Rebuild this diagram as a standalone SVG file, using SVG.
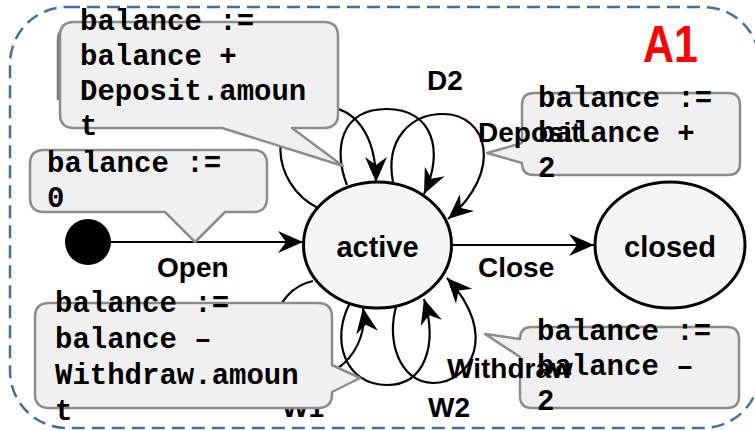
<svg xmlns="http://www.w3.org/2000/svg" width="755" height="431" viewBox="0 0 755 431">
  <style>
    .frame { fill: none; stroke: #456f9e; stroke-width: 2.5; stroke-dasharray: 13 7; }
    .state { fill: #f5f5f5; stroke: #000; stroke-width: 3; }
    .edge { fill: none; stroke: #000; stroke-width: 2; marker-end: url(#arrow); }
    .loop { fill: none; stroke: #000; stroke-width: 2.2; marker-end: url(#arrow); }
    .note { fill: #f0f0f0; stroke: #8c8c8c; stroke-width: 2.5; stroke-linejoin: round; }
    .lbl { font-family: "Liberation Sans", Arial, sans-serif; font-weight: bold; font-size: 28px; fill: #000; }
    .name { font-family: "Liberation Sans", Arial, sans-serif; font-weight: bold; font-size: 29px; fill: #000; text-anchor: middle; }
    .code { font-family: "Liberation Mono", "Courier New", monospace; font-weight: bold; font-size: 29px; fill: #000; }
  </style>
  <defs>
    <marker id="arrow" viewBox="-26 -12 28 24" refX="0" refY="0" markerWidth="28" markerHeight="24" markerUnits="userSpaceOnUse" orient="auto">
      <path d="M0,0 L-25,-11 L-17,0 L-25,11 Z" fill="#000"/>
    </marker>
  </defs>

  <!-- region frame -->
  <rect class="frame" x="10" y="7" width="750" height="421" rx="57" ry="57"/>
  <text x="643" y="62" transform="translate(643,62) scale(1,1.2) translate(-643,-62)" font-family="'Liberation Sans', Arial, sans-serif" font-weight="bold" font-size="43" fill="#ff0000">A1</text>

  <!-- connectors -->
  <g id="connectors">
    <line class="edge" x1="111" y1="242" x2="303" y2="242"/>
    <line class="edge" x1="452" y1="245" x2="594" y2="245"/>
    <!-- deposit self-loops -->
    <path class="loop" d="M318,208 C270,185 265,110 320,107 C355,105 376,135 376,182"/>
    <path class="loop" d="M347,185 C333,150 340,109 387,109 C432,109 445,150 424,194"/>
    <path class="loop" d="M393,182 C385,140 410,114 443,114 C487,114 505,170 448,219"/>
    <!-- withdraw self-loops -->
    <path class="loop" d="M313,281 C270,290 260,350 295,372 C330,390 370,350 363,308"/>
    <path class="loop" d="M350,303 C330,340 345,385 387,385 C425,385 438,345 424,299"/>
    <path class="loop" d="M397,304 C385,340 400,383 433,383 C470,383 500,335 447,278"/>
    <text class="lbl" x="282" y="417">W1</text>
  </g>

  <!-- states -->
  <g id="initial">
    <circle cx="88" cy="242" r="23" fill="#000"/>
  </g>
  <g id="active">
    <ellipse class="state" cx="377.5" cy="245" rx="74" ry="63"/>
    <text class="name" x="377.5" y="257">active</text>
  </g>
  <g id="closed">
    <ellipse class="state" cx="670" cy="245" rx="75" ry="63"/>
    <text class="name" x="670" y="257">closed</text>
  </g>

  <!-- action notes -->
  <g id="note-deposit-amount">
    <path d="M66,27 Q58,30 58,40 V100" fill="none" stroke="#777" stroke-width="2.5"/>
    <path class="note" d="M74,22 H324 Q338,22 338,36 V114 Q338,128 324,128 H292 L343,166 L222,128 H74 Q60,128 60,114 V36 Q60,22 74,22 Z"/>
    <text class="code" x="80" y="30">balance :=</text>
    <text class="code" x="80" y="65">balance +</text>
    <text class="code" x="80" y="100">Deposit.amoun</text>
    <text class="code" x="80" y="135">t</text>
  </g>
  <g id="note-open">
    <path class="note" d="M44,150 H253 Q267,150 267,164 V198 Q267,212 253,212 H225 L195,242 L165,212 H44 Q30,212 30,198 V164 Q30,150 44,150 Z"/>
    <text class="code" x="47" y="172">balance :=</text>
    <text class="code" x="47" y="207">0</text>
  </g>
  <g id="note-withdraw-amount">
    <path class="note" d="M49,303 H318 Q332,303 332,317 V365 L360,378 L332,392 V394 Q332,408 318,408 H49 Q35,408 35,394 V317 Q35,303 49,303 Z"/>
    <text class="code" x="55" y="312">balance :=</text>
    <text class="code" x="55" y="348">balance –</text>
    <text class="code" x="55" y="384">Withdraw.amoun</text>
    <text class="code" x="55" y="420">t</text>
  </g>
  <g id="note-deposit-2">
    <path class="note" d="M534,93 H728 Q740,93 740,105 V163 Q740,175 728,175 H534 Q522,175 522,163 L487,153 L522,143 V105 Q522,93 534,93 Z"/>
    <text class="code" x="538" y="107">balance :=</text>
    <text class="code" x="538" y="142">balance +</text>
    <text class="code" x="538" y="177">2</text>
  </g>
  <g id="note-withdraw-2">
    <path class="note" d="M532,327 H727 Q739,327 739,339 V396 Q739,408 727,408 H532 Q520,408 520,396 V357 L485,334 L520,339 Q520,327 532,327 Z"/>
    <text class="code" x="537" y="340">balance :=</text>
    <text class="code" x="537" y="375">balance –</text>
    <text class="code" x="537" y="410">2</text>
  </g>

  <!-- transition labels -->
  <g id="labels">
    <text class="lbl" x="157" y="277">Open</text>
    <text class="lbl" x="478" y="277">Close</text>
    <text class="lbl" x="427" y="90">D2</text>
    <text class="lbl" x="478" y="142">Deposit</text>
    <text class="lbl" x="447" y="378">Withdraw</text>
    <text class="lbl" x="428" y="417">W2</text>
  </g>
</svg>
